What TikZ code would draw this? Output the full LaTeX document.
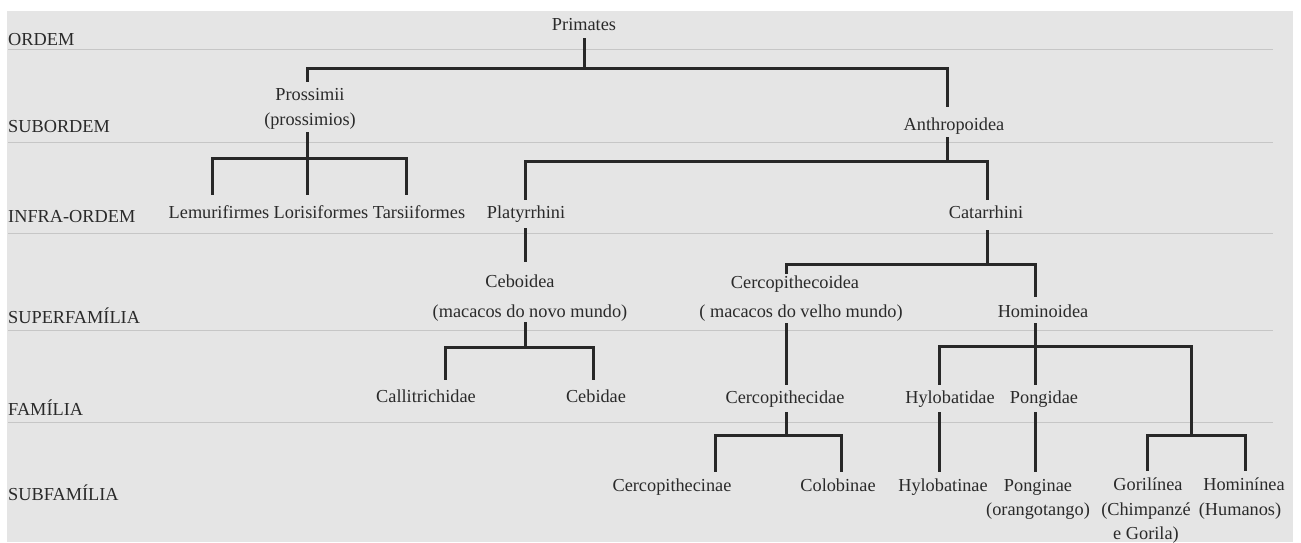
\documentclass[tikz,border=0pt]{standalone}
\usepackage{fontspec}
\setmainfont{Liberation Serif}
\definecolor{bg}{RGB}{229,229,229}
\definecolor{ink}{RGB}{42,42,42}
\definecolor{linec}{RGB}{40,40,40}
\definecolor{sepc}{RGB}{198,198,198}
\begin{document}
\begin{tikzpicture}[x=1pt,y=-1pt,
  every node/.style={font=\fontsize{18.3}{22}\selectfont, text=ink, inner sep=0pt, text height=13pt, text depth=4pt, anchor=base},
  lvl/.style={anchor=base west},
  tree/.style={draw=linec, line width=3pt, line join=miter},
  sepline/.style={draw=sepc, line width=0.9pt}]
\useasboundingbox (0,0) rectangle (1301,542);
\fill[bg] (7,11) rectangle (1293,542);
% separator lines
\draw[sepline] (8,49) -- (1273,49);
\draw[sepline] (8,142) -- (1273,142);
\draw[sepline] (8,233) -- (1273,233);
\draw[sepline] (8,330) -- (1273,330);
\draw[sepline] (8,422) -- (1273,422);
% level labels
\node[lvl] (l1) at (8,45) {ORDEM};
\node[lvl] (l2) at (8,132) {SUBORDEM};
\node[lvl] (l3) at (8,222) {INFRA-ORDEM};
\node[lvl] (l4) at (8,323) {SUPERFAMÍLIA};
\node[lvl] (l5) at (8,415) {FAMÍLIA};
\node[lvl] (l6) at (8,500) {SUBFAMÍLIA};
% taxa
\node (prim) at (584,30) {Primates};
\node (pros) at (310,100) {Prossimii};
\node (prosb) at (310,125) {(prossimios)};
\node (anth) at (954,130) {Anthropoidea};
\node (lemu) at (219,218) {Lemurifirmes};
\node (lori) at (321,218) {Lorisiformes};
\node (tars) at (419,218) {Tarsiiformes};
\node (plat) at (526,218) {Platyrrhini};
\node (cata) at (986,218) {Catarrhini};
\node (ceb) at (520,287) {Ceboidea};
\node (cebb) at (530,317) {(macacos do novo mundo)};
\node (cerco) at (795,288) {Cercopithecoidea};
\node (cercob) at (801,317) {( macacos do velho mundo)};
\node (homi) at (1043,317) {Hominoidea};
\node (calli) at (426,402) {Callitrichidae};
\node (cebi) at (596,402) {Cebidae};
\node (cercid) at (785,403) {Cercopithecidae};
\node (hylo) at (950,403) {Hylobatidae};
\node (pong) at (1044,403) {Pongidae};
\node (cercin) at (672,491) {Cercopithecinae};
\node (colob) at (838,491) {Colobinae};
\node (hylob) at (943,491) {Hylobatinae};
\node (pongin) at (1038,491) {Ponginae};
\node (ponginb) at (1038,515) {(orangotango)};
\node (gori) at (1148,490) {Gorilínea};
\node (gorib) at (1146,515) {(Chimpanzé};
\node (goric) at (1146,539) {e Gorila)};
\node (homin) at (1244,490) {Hominínea};
\node (hominb) at (1240,515) {(Humanos)};
% junctions
\coordinate (j1) at (584,68);
\coordinate (j2) at (307,158);
\coordinate (j3) at (947,161);
\coordinate (j4) at (987,264);
\coordinate (j5) at (525,347);
\coordinate (j6) at (1035,346);
\coordinate (j7) at (1191,435);
\coordinate (j8) at (786,435);
% connectors
\draw[tree] ([yshift=-4pt]prim.south) -- (j1);
\draw[tree] (j1) -| ([xshift=-3pt,yshift=5pt]pros.north);
\draw[tree] (j1) -| ([xshift=-7pt,yshift=10pt]anth.north);
\draw[tree] ([xshift=-3pt,yshift=-3pt]prosb.south) -- ([xshift=-14pt,yshift=10pt]lori.north);
\draw[tree] (j2) -| ([xshift=-7pt,yshift=10pt]lemu.north);
\draw[tree] (j2) -| ([xshift=-13pt,yshift=10pt]tars.north);
\draw[tree] ([xshift=-7pt,yshift=-3pt]anth.south) -- (j3);
\draw[tree] (j3) -| ([xshift=-1pt,yshift=5pt]plat.north);
\draw[tree] (j3) -| ([xshift=1pt,yshift=5pt]cata.north);
\draw[tree] ([xshift=-1pt,yshift=-6pt]plat.south) -- ([xshift=5pt,yshift=12pt]ceb.north);
\draw[tree] ([xshift=1pt,yshift=-8pt]cata.south) -- (j4);
\draw[tree] (j4) -| ([xshift=-9pt,yshift=1pt]cerco.north);
\draw[tree] (j4) -| ([xshift=-8pt,yshift=7pt]homi.north);
\draw[tree] ([xshift=-5pt,yshift=-1pt]cebb.south) -- (j5);
\draw[tree] (j5) -| ([xshift=19pt,yshift=9pt]calli.north);
\draw[tree] (j5) -| ([xshift=-3pt,yshift=9pt]cebi.north);
\draw[tree] ([xshift=-15pt,yshift=-2pt]cercob.south) -- ([xshift=1pt,yshift=5pt]cercid.north);
\draw[tree] ([xshift=-8pt,yshift=-2pt]homi.south) -- ([xshift=-9pt,yshift=5pt]pong.north);
\draw[tree] (j6) -| ([xshift=-11pt,yshift=5pt]hylo.north);
\draw[tree] (j6) -| (j7);
\draw[tree] (j7) -| ([xshift=-1pt,yshift=6pt]gori.north);
\draw[tree] (j7) -| ([xshift=1pt,yshift=6pt]homin.north);
\draw[tree] ([xshift=1pt,yshift=-5pt]cercid.south) -- (j8);
\draw[tree] (j8) -| ([xshift=43pt,yshift=6pt]cercin.north);
\draw[tree] (j8) -| ([xshift=3pt,yshift=6pt]colob.north);
\draw[tree] ([xshift=-11pt,yshift=-5pt]hylo.south) -- ([xshift=-4pt,yshift=6pt]hylob.north);
\draw[tree] ([xshift=-9pt,yshift=-5pt]pong.south) -- ([xshift=-3pt,yshift=6pt]pongin.north);
\end{tikzpicture}
\end{document}
